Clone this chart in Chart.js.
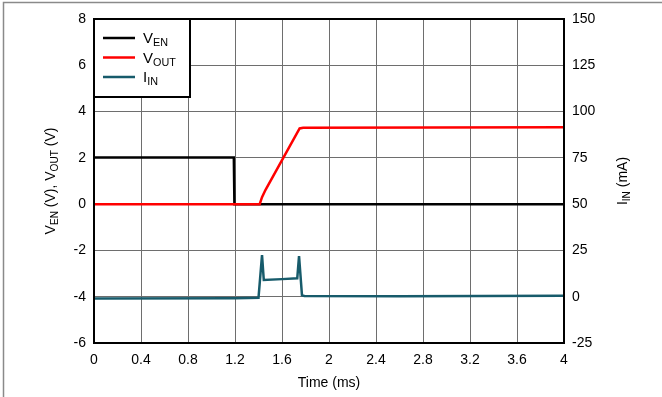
<!DOCTYPE html>
<html lang="en">
  <head>
    <meta charset="UTF-8" />
    <title>Enable / Output / Input Current Waveforms</title>
    <script src="https://cdn.jsdelivr.net/npm/chart.js"></script>
    <style>
      body {
        margin: 0;
        background: #fff;
      }
      .wrap {
        position: relative;
        width: 662px;
        height: 397px;
      }
    </style>
  </head>
  <body>
    <div class="wrap"><canvas id="scope"></canvas></div>
    <script>
      // waveform corners
      const enTime = [0, 1.19, 1.195, 4];
      const enVolt = [2.02, 2.02, 0, 0];

      const outTime = [0, 1.41, 1.43, 1.46, 1.75, 1.78, 4];
      const outVolt = [0, 0, 0.3, 0.62, 3.27, 3.3, 3.32];

      const inTime = [0, 1.2, 1.4, 1.43, 1.445, 1.6, 1.73, 1.745, 1.77, 1.79, 2.6, 4];
      const inCurr = [-1, -0.8, -0.6, 22.5, 9, 9.5, 10, 22, 0.8, 0.4, 0.3, 0.5];

      const timeTicks = [0, 0.4, 0.8, 1.2, 1.6, 2, 2.4, 2.8, 3.2, 3.6, 4];
      const voltTicks = [-6, -4, -2, 0, 2, 4, 6, 8];
      const currTicks = [-25, 0, 25, 50, 75, 100, 125, 150];

      const FONT = "'Liberation Sans', Arial, sans-serif";
      const TEAL = "#175b6b";

      const pts = (xs, ys) => xs.map((x, i) => ({ x: x, y: ys[i] }));

      // draws "V" + subscript "EN" etc; parts = [[text, isSub], ...]
      function subText(ctx, parts, x, y, size, align) {
        const widths = parts.map(([t, sub]) => {
          ctx.font = (sub ? size * 0.72 : size) + "px " + FONT;
          return ctx.measureText(t).width;
        });
        const total = widths.reduce((a, b) => a + b, 0);
        let cx = align === "center" ? x - total / 2 : x;
        ctx.textBaseline = "alphabetic";
        ctx.textAlign = "left";
        parts.forEach(([t, sub], i) => {
          ctx.font = (sub ? size * 0.72 : size) + "px " + FONT;
          ctx.fillText(t, cx, sub ? y + size * 0.22 : y);
          cx += widths[i];
        });
      }

      const decor = {
        id: "decor",
        beforeDraw(chart) {
          const ctx = chart.ctx;
          ctx.save();
          ctx.strokeStyle = "#8a8a8a";
          ctx.lineWidth = 1.5;
          ctx.beginPath();
          ctx.moveTo(3.5, 400);
          ctx.lineTo(3.5, 2.5);
          ctx.lineTo(662, 2.5);
          ctx.stroke();
          ctx.restore();
        },
        afterDraw(chart) {
          const ctx = chart.ctx;
          const a = chart.chartArea;
          ctx.save();
          ctx.strokeStyle = "#000";
          ctx.lineWidth = 2;
          ctx.strokeRect(a.left, a.top, a.right - a.left, a.bottom - a.top);

          // legend box
          ctx.fillStyle = "#fff";
          ctx.fillRect(a.left, a.top, 96, 78);
          ctx.strokeRect(a.left, a.top, 96, 78);
          const rows = [
            ["#000", [["V", false], ["EN", true]]],
            ["#ff0000", [["V", false], ["OUT", true]]],
            [TEAL, [["I", false], ["IN", true]]],
          ];
          rows.forEach(([col, parts], i) => {
            const ly = a.top + 19 + i * 19.5;
            ctx.strokeStyle = col;
            ctx.lineWidth = 2.5;
            ctx.beginPath();
            ctx.moveTo(a.left + 9, ly);
            ctx.lineTo(a.left + 41, ly);
            ctx.stroke();
            ctx.fillStyle = "#000";
            subText(ctx, parts, a.left + 49, ly + 5, 15, "left");
          });

          // axis titles
          const midY = (a.top + a.bottom) / 2;
          ctx.fillStyle = "#000";
          ctx.save();
          ctx.translate(55, midY);
          ctx.rotate(-Math.PI / 2);
          subText(
            ctx,
            [["V", false], ["EN", true], [" (V), V", false], ["OUT", true], [" (V)", false]],
            0, 0, 14, "center"
          );
          ctx.restore();
          ctx.save();
          ctx.translate(627, midY);
          ctx.rotate(-Math.PI / 2);
          subText(ctx, [["I", false], ["IN", true], [" (mA)", false]], 0, 0, 14, "center");
          ctx.restore();
          ctx.font = "14px " + FONT;
          ctx.textAlign = "center";
          ctx.fillText("Time (ms)", (a.left + a.right) / 2, 387);
          ctx.restore();
        },
      };

      const fmt = (v) => String(+(+v).toFixed(1));
      const tickFont = { family: FONT, size: 14 };

      new Chart(document.getElementById("scope"), {
        type: "line",
        data: {
          datasets: [
            {
              label: "VOUT",
              data: pts(outTime, outVolt),
              borderColor: "#ff0000",
              yAxisID: "y",
            },
            {
              label: "VEN",
              data: pts(enTime, enVolt),
              borderColor: "#000",
              yAxisID: "y",
            },
            {
              label: "IIN",
              data: pts(inTime, inCurr),
              borderColor: TEAL,
              yAxisID: "y1",
            },
          ],
        },
        options: {
          responsive: true,
          maintainAspectRatio: false,
          animation: false,
          layout: { padding: { top: 19, left: 0, right: 0, bottom: 0 } },
          elements: {
            point: { radius: 0 },
            line: { borderWidth: 2.5, tension: 0 },
          },
          plugins: { legend: { display: false }, tooltip: { enabled: false } },
          scales: {
            x: {
              type: "linear",
              min: 0,
              max: 4,
              afterFit: (s) => (s.height = 54),
              afterBuildTicks: (s) => (s.ticks = timeTicks.map((v) => ({ value: v }))),
              grid: { color: "#6e6e6e", lineWidth: 1, drawTicks: false },
              border: { display: false },
              ticks: { color: "#000", font: tickFont, padding: 9, callback: fmt, maxRotation: 0 },
            },
            y: {
              position: "left",
              min: -6,
              max: 8,
              afterFit: (s) => (s.width = 94),
              afterBuildTicks: (s) => (s.ticks = voltTicks.map((v) => ({ value: v }))),
              grid: { color: "#6e6e6e", lineWidth: 1, drawTicks: false },
              border: { display: false },
              ticks: { color: "#000", font: tickFont, padding: 8 },
            },
            y1: {
              position: "right",
              min: -25,
              max: 150,
              afterFit: (s) => (s.width = 98),
              afterBuildTicks: (s) => (s.ticks = currTicks.map((v) => ({ value: v }))),
              grid: { drawOnChartArea: false, drawTicks: false },
              border: { display: false },
              ticks: { color: "#000", font: tickFont, padding: 8 },
            },
          },
        },
        plugins: [decor],
      });
    </script>
  </body>
</html>
